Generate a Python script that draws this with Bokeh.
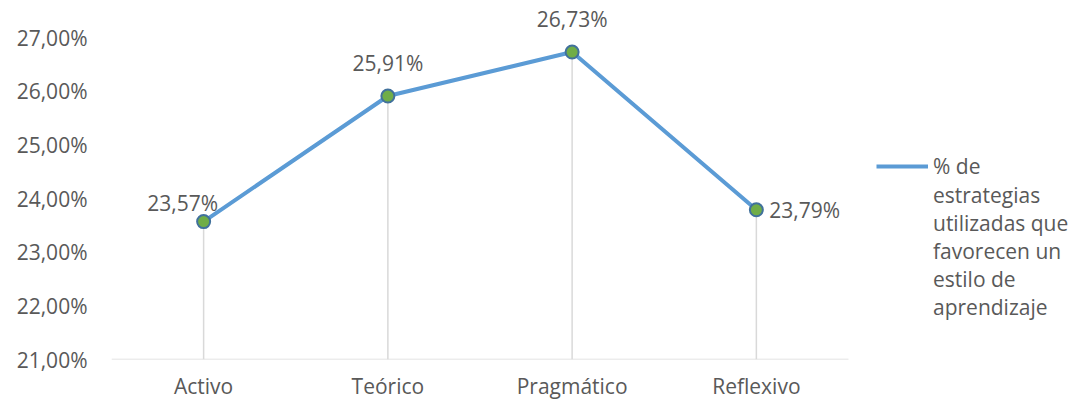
from bokeh.plotting import figure
from bokeh.models import (ColumnDataSource, LabelSet, Legend, LegendItem, Range1d,
                          CustomJSTickFormatter, FixedTicker)
from bokeh.core.properties import value
from bokeh.embed import file_html
from bokeh.resources import INLINE

categories = ["Activo", "Teórico", "Pragmático", "Reflexivo"]
values = [23.57, 25.91, 26.73, 23.79]
value_labels = ["23,57%", "25,91%", "26,73%", "23,79%"]
y_ticks = [21, 22, 23, 24, 25, 26, 27]
series_first_line = "% de"
series_rest = "estrategias\nutilizadas que\nfavorecen un\nestilo de\naprendizaje"

FONT = "Open Sans"
TXT = "#595959"
Y_MIN, Y_MAX = 21, 27

n = len(categories)
xs = [i + 0.5 for i in range(n)]

# frame extends past the category area to hold the legend and the top label
p = figure(width=1071, height=404, x_range=Range1d(0, n * 1.3026),
           y_range=Range1d(Y_MIN, Y_MAX + 0.69), output_backend="svg", toolbar_location=None,
           min_border_left=111, min_border_right=0, min_border_top=0, min_border_bottom=45)
p.outline_line_color = None
p.xgrid.grid_line_color = None
p.ygrid.grid_line_color = None

src = ColumnDataSource(dict(
    x=xs, y=values, base=[Y_MIN] * n, lab=value_labels,
    xo=[-21, 0, 0, 13], yo=[19, 33, 33, 0],
    al=["center", "center", "center", "left"],
))

# baseline (category axis line) spanning only the category area
p.segment(x0=[0], y0=[Y_MIN], x1=[n], y1=[Y_MIN], line_color="#D9D9D9", line_width=1.5)
p.segment(x0="x", y0="base", x1="x", y1="y", source=src, line_color="#D9D9D9", line_width=1.5)
line = p.line(x="x", y="y", source=src, line_color="#5B9BD5", line_width=4, line_join="round")
dummy = p.line(x="x", y="y", source=src, line_alpha=0)
p.scatter(x="x", y="y", source=src, size=13, fill_color="#70AD47", line_color="#41719C", line_width=2)

labels = LabelSet(x="x", y="y", text="lab", source=src, x_offset="xo", y_offset="yo",
                  text_align="al", text_baseline="middle", text_font=value(FONT),
                  text_font_size="21px", text_color=TXT)
p.add_layout(labels)

p.yaxis.ticker = FixedTicker(ticks=y_ticks)
p.yaxis.formatter = CustomJSTickFormatter(code="return tick.toFixed(2).replace('.', ',') + '%';")
p.yaxis.axis_line_color = None
p.yaxis.major_tick_line_color = None
p.yaxis.major_tick_out = 0
p.yaxis.minor_tick_line_color = None
p.yaxis.major_label_standoff = 24
p.yaxis.major_label_text_font = FONT
p.yaxis.major_label_text_font_size = "21px"
p.yaxis.major_label_text_color = TXT

p.xaxis.ticker = FixedTicker(ticks=xs)
p.xaxis.formatter = CustomJSTickFormatter(args=dict(cats=categories),
                                          code="return cats[Math.floor(tick)] || '';")
p.xaxis.axis_line_color = None
p.xaxis.major_tick_line_color = None
p.xaxis.major_tick_out = 0
p.xaxis.minor_tick_line_color = None
p.xaxis.major_label_standoff = 12
p.xaxis.major_label_text_font = FONT
p.xaxis.major_label_text_font_size = "21px"
p.xaxis.major_label_text_color = TXT

legend = Legend(items=[LegendItem(label=series_first_line, renderers=[line]),
                       LegendItem(label=series_rest, renderers=[dummy])],
                location=(765, 38), glyph_width=52, label_standoff=5, spacing=1,
                label_text_font=FONT, label_text_font_size="21px", label_text_color=TXT,
                label_text_line_height=1.38,
                border_line_color=None, background_fill_alpha=0, margin=0, padding=0)
p.add_layout(legend)

html = file_html(p, INLINE)
html = html.replace("<head>", "<head><style>html,body{overflow:hidden}</style>", 1)
open("out.html", "w").write(html)
